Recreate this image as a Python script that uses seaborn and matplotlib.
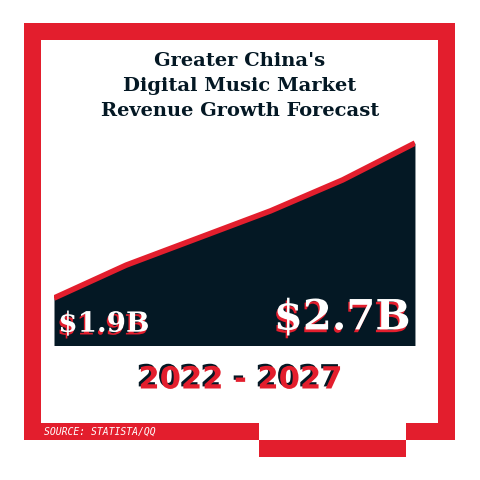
import matplotlib
matplotlib.use("Agg")
import matplotlib.pyplot as plt
import matplotlib.patheffects as pe
from matplotlib.patches import Rectangle
import seaborn as sns
import pandas as pd

years = [2022, 2023, 2024, 2025, 2026, 2027]
revenue = [1.9, 2.07, 2.21, 2.35, 2.51, 2.7]
title_lines = ["Greater China's", "Digital Music Market", "Revenue Growth Forecast"]
start_label = "$1.9B"
end_label = "$2.7B"
period_label = "2022 - 2027"
source_label = "SOURCE: STATISTA/QQ"

RED = "#e31e2d"
NAVY = "#041824"

sns.set_theme(style="white")
fig = plt.figure(figsize=(4.8, 4.8), dpi=100)

# background frame in pixel coordinates
bg = fig.add_axes([0, 0, 1, 1])
bg.set_xlim(0, 480)
bg.set_ylim(480, 0)
bg.axis("off")
bg.add_patch(Rectangle((24, 23), 431, 417, color=RED, lw=0))
bg.add_patch(Rectangle((41, 40), 397, 383, color="white", lw=0))
bg.add_patch(Rectangle((259, 423), 147, 17, color="white", lw=0))
bg.add_patch(Rectangle((259, 440), 147, 17, color=RED, lw=0))

for i, line in enumerate(title_lines):
    bg.text(240, 61 + i * 25, line, ha="center", va="center", fontsize=14,
            fontweight="heavy", family="DejaVu Serif", color=NAVY)

bg.text(44, 432, source_label, ha="left", va="center", fontsize=7,
        family="DejaVu Sans Mono", style="italic", color="white")

# chart
df = pd.DataFrame({"year": years, "revenue": revenue})
ax = fig.add_axes([0.1125, 0.281, 0.752, 0.448])
ax.fill_between(df["year"], 1.0, df["revenue"], color=NAVY, lw=0)
sns.lineplot(data=df, x="year", y="revenue", color=RED, lw=4, ax=ax,
             solid_capstyle="butt")
ax.set_xlim(years[0], years[-1])
ax.set_ylim(1.657, 2.767)
ax.axis("off")

shadow_red = [pe.withSimplePatchShadow(offset=(-1, -2), shadow_rgbFace=RED, alpha=1)]
ax.text(years[0] + 0.06, 1.765, start_label, ha="left", va="center", fontsize=20,
        fontweight="bold", family="DejaVu Serif", color="white", path_effects=shadow_red)
ax.text(years[-1] - 0.06, 1.80, end_label, ha="right", va="center", fontsize=30,
        fontweight="bold", family="DejaVu Serif", color="white", path_effects=shadow_red)

shadow_navy = [pe.withSimplePatchShadow(offset=(-1.5, 1.5), shadow_rgbFace=NAVY, alpha=1)]
bg.text(240, 380, period_label, ha="center", va="center", fontsize=22,
        fontweight="bold", family="DejaVu Sans", color=RED, path_effects=shadow_navy)

fig.savefig("out.png", dpi=100)
